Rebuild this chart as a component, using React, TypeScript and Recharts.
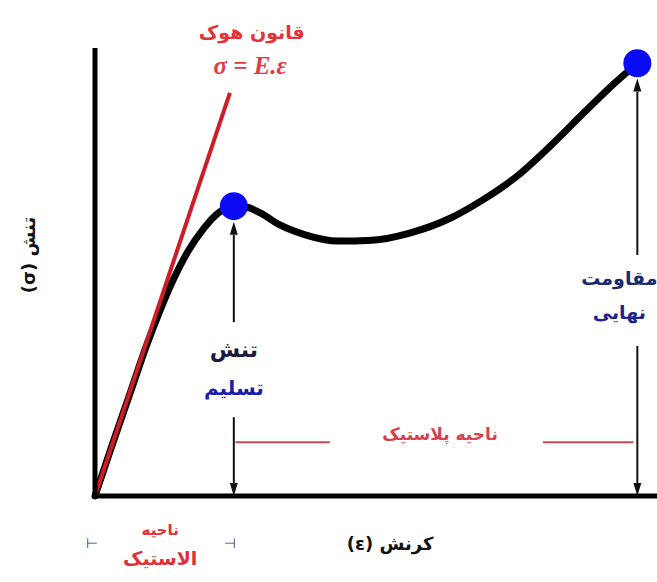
import React from "react";
import {
  ComposedChart,
  Line,
  XAxis,
  YAxis,
  ReferenceDot,
  ReferenceLine,
} from "recharts";

// stress–strain curve of a ductile metal, in relative units (0..100)
const strain = [
  0, 3, 6.2, 9.2, 11.6, 13.9, 16.5, 19.4, 22.2, 24.7, 26.9, 29.4, 32.9, 37.4,
  43.2, 49.3, 56, 63.2, 69, 75.1, 81, 86.8, 92.5, 96.5,
];
const stress = [
  0, 11.2, 22.8, 33.7, 41.5, 48.2, 54.5, 59.8, 63.4, 64.7, 64.5, 63.2, 60.5,
  58.3, 56.9, 57.1, 58.7, 62, 66.1, 71.4, 78.1, 85.3, 92.2, 96.6,
];

// Hooke's law line (linear elastic part)
const hookeStrain = [0, 24];
const hookeStress = [0, 90];

const yieldStrain = 24.7;
const yieldStress = 64.7;
const ultimateStrain = 96.5;
const ultimateStress = 96.6;

const curve = strain.map((s, i) => ({ strain: s, stress: stress[i] }));
const hooke = hookeStrain.map((s, i) => ({ strain: s, stress: hookeStress[i] }));

const FONT = '"DejaVu Sans", sans-serif';

type TextOpts = {
  rotate?: number;
  family?: string;
  italic?: boolean;
  ltr?: boolean;
  weight?: string;
};

function textLabel(text: string, fill: string, size: number, opts: TextOpts = {}) {
  return (props: any) => {
    const { x, y } = props.viewBox;
    return (
      <text
        x={x}
        y={y}
        fill={fill}
        fontSize={size}
        fontFamily={opts.family ?? FONT}
        fontWeight={opts.weight ?? "bold"}
        fontStyle={opts.italic ? "italic" : "normal"}
        textAnchor="middle"
        dominantBaseline="central"
        direction={opts.ltr ? "ltr" : "rtl"}
        transform={opts.rotate ? `rotate(${opts.rotate} ${x} ${y})` : undefined}
      >
        {text}
      </text>
    );
  };
}

// vertical line with a filled head at (x2, y2)
function arrow(p: any) {
  const { x1, y1, x2, y2 } = p;
  const dir = y2 > y1 ? 1 : -1;
  const head = 13;
  return (
    <g>
      <line x1={x1} y1={y1} x2={x2} y2={y2 - dir * head} stroke="#111" strokeWidth={2} />
      <polygon
        points={`${x2},${y2} ${x2 - 4},${y2 - dir * head} ${x2 + 4},${y2 - dir * head}`}
        fill="#111"
      />
    </g>
  );
}

function Note({ x, y, label }: { x: number; y: number; label: any }) {
  return <ReferenceDot x={x} y={y} r={0} ifOverflow="visible" label={label} />;
}

export default function App() {
  return (
    <div style={{ position: "absolute", left: 0, top: 0, width: 657, height: 582, background: "#fff" }}>
      <ComposedChart width={657} height={582} margin={{ top: 48, right: 0, bottom: 86, left: 95 }}>
        <XAxis dataKey="strain" type="number" domain={[0, 100]} hide />
        <YAxis dataKey="stress" type="number" domain={[0, 100]} hide />

        <Line
          data={curve}
          dataKey="stress"
          type="monotone"
          stroke="#000"
          strokeWidth={7}
          strokeLinecap="round"
          dot={false}
          activeDot={false}
          isAnimationActive={false}
        />
        <Line
          data={hooke}
          dataKey="stress"
          type="linear"
          stroke="#d01c26"
          strokeWidth={4}
          dot={false}
          activeDot={false}
          isAnimationActive={false}
        />

        {/* axes */}
        <ReferenceLine
          segment={[{ x: -0.5, y: 0 }, { x: 100, y: 0 }]}
          ifOverflow="visible"
          stroke="#000"
          strokeWidth={5}
        />
        <ReferenceLine
          segment={[{ x: 0, y: 0 }, { x: 0, y: 100 }]}
          stroke="#000"
          strokeWidth={5}
        />

        {/* yield stress arrows */}
        <ReferenceLine
          segment={[{ x: yieldStrain, y: 38.8 }, { x: yieldStrain, y: 61.2 }]}
          shape={arrow}
        />
        <ReferenceLine
          segment={[{ x: yieldStrain, y: 17.6 }, { x: yieldStrain, y: 0 }]}
          shape={arrow}
        />
        {/* ultimate strength arrows */}
        <ReferenceLine
          segment={[{ x: ultimateStrain, y: 53.8 }, { x: ultimateStrain, y: 93.2 }]}
          shape={arrow}
        />
        <ReferenceLine
          segment={[{ x: ultimateStrain, y: 33.5 }, { x: ultimateStrain, y: 0 }]}
          shape={arrow}
        />

        {/* plastic region bounds */}
        <ReferenceLine
          segment={[{ x: 25, y: 12 }, { x: 41.8, y: 12 }]}
          stroke="#c84a56"
          strokeWidth={2}
        />
        <ReferenceLine
          segment={[{ x: 79.7, y: 12 }, { x: 95.8, y: 12 }]}
          stroke="#c84a56"
          strokeWidth={2}
        />

        <ReferenceDot x={yieldStrain} y={yieldStress} r={14} fill="#0a0af5" stroke="none" />
        <ReferenceDot x={ultimateStrain} y={ultimateStress} r={14} fill="#0a0af5" stroke="none" />

        <Note x={27.9} y={103.6} label={textLabel("قانون هوک", "#e5323a", 19)} />
        <Note
          x={27.6}
          y={96}
          label={textLabel("σ = E.ε", "#e03a44", 25, {
            family: '"Liberation Serif", serif',
            italic: true,
            ltr: true,
          })}
        />

        <Note x={yieldStrain} y={32.6} label={textLabel("تنش", "#1a1a3a", 22)} />
        <Note x={yieldStrain} y={24.1} label={textLabel("تسلیم", "#1c1caa", 20)} />

        <Note x={93.3} y={48.7} label={textLabel("مقاومت", "#1a2a70", 19)} />
        <Note x={93.3} y={41.1} label={textLabel("نهایی", "#22228c", 19)} />

        <Note x={61.4} y={13.8} label={textLabel("ناحیه پلاستیک", "#d8404c", 17)} />

        <Note x={-11.9} y={53.8} label={textLabel("تنش (σ)", "#111", 18, { rotate: -90 })} />
        <Note x={52.5} y={-10.5} label={textLabel("کرنش (ε)", "#111", 18)} />

        <Note x={11.6} y={-7.6} label={textLabel("ناحیه", "#e0303a", 15)} />
        <Note x={11.6} y={-13.8} label={textLabel("الاستیک", "#e0303a", 19)} />
        <Note x={-0.5} y={-10.5} label={textLabel("⊢", "#444", 14, { ltr: true, weight: "normal" })} />
        <Note x={24} y={-10.5} label={textLabel("⊣", "#444", 14, { ltr: true, weight: "normal" })} />
      </ComposedChart>
    </div>
  );
}
